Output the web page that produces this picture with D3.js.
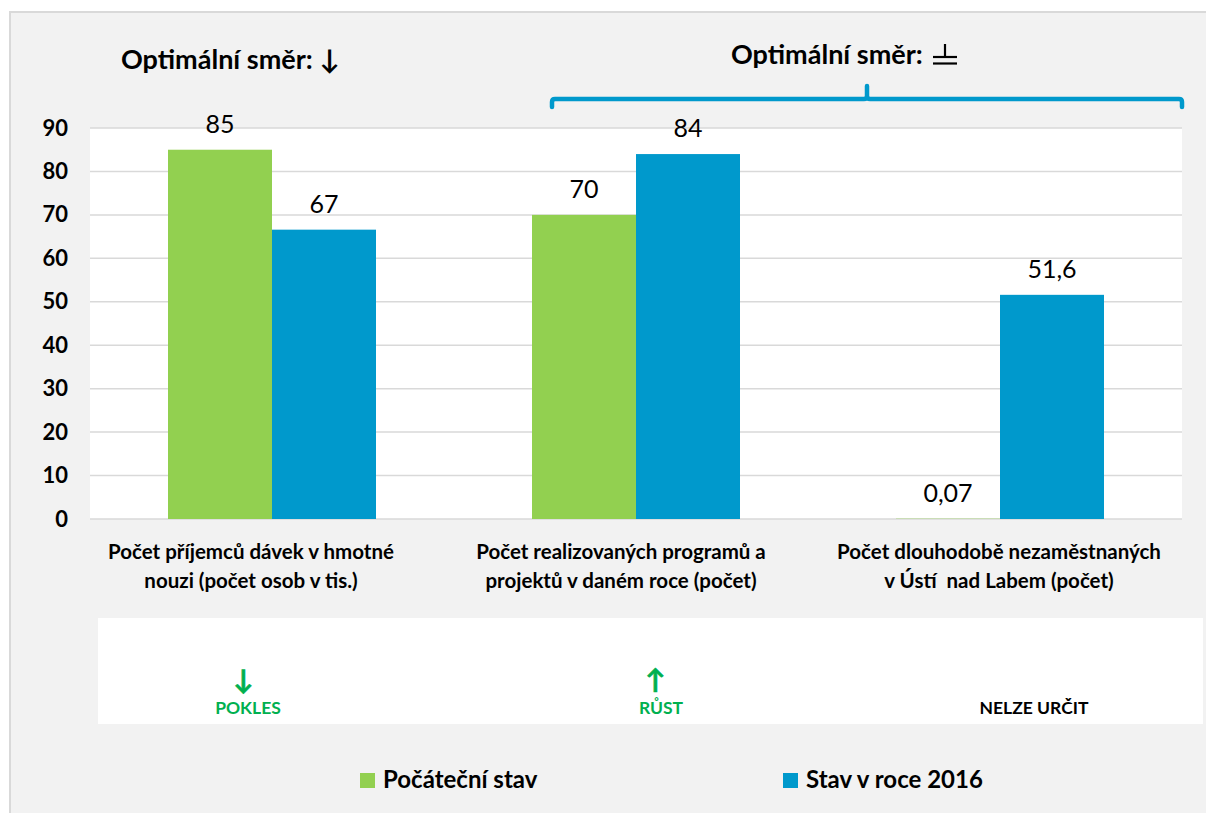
<!DOCTYPE html>
<html>
<head>
<meta charset="utf-8">
<script src="https://cdn.jsdelivr.net/npm/d3@7"></script>
<style>
  body { margin: 0; background: #fff; }
  svg { display: block; font-family: Lato, "Open Sans", sans-serif; }
  .cat tspan { white-space: pre; }
</style>
</head>
<body>
<svg id="chart" width="1206" height="813"></svg>
<script>
// data
let categories = [
	["Počet příjemců dávek v hmotné", "nouzi (počet osob v tis.)"],
	["Počet realizovaných programů a", "projektů v daném roce (počet)"],
	["Počet dlouhodobě nezaměstnaných", "v Ústí  nad Labem (počet)"]
];
let seriesNames = ["Počáteční stav", "Stav v roce 2016"];
let initialValues = [85, 70, 0.07];
let values2016 = [66.6, 84, 51.6];
let initialLabels = ["85", "70", "0,07"];
let labels2016 = ["67", "84", "51,6"];
let yTicks = [0, 10, 20, 30, 40, 50, 60, 70, 80, 90];
let trendTexts = ["POKLES", "RŮST", "NELZE URČIT"];
let trendArrows = ["↓", "↑", ""];
let trendColors = ["#00b050", "#00b050", "#000"];

let colors = ["#92d050", "#0099cc"];

let svg = d3.select("#chart");
let W = +svg.attr("width"), H = +svg.attr("height");

// background + frame
svg.append("rect").attr("x", 10).attr("y", 12).attr("width", W).attr("height", H)
	.attr("fill", "#f2f2f2").attr("stroke", "#d9d9d9").attr("stroke-width", 2);

let plot = { left: 90, right: 1182, top: 128, bottom: 519 };

svg.append("rect").attr("x", plot.left).attr("y", plot.top)
	.attr("width", plot.right - plot.left).attr("height", plot.bottom - plot.top)
	.attr("fill", "#fff");

let x0 = d3.scaleBand().domain(d3.range(categories.length)).range([plot.left, plot.right]);
let x1 = d3.scaleBand().domain(d3.range(seriesNames.length)).range([0, x0.bandwidth()]).paddingOuter(0.75);
let y = d3.scaleLinear().domain([0, 90]).range([plot.bottom, plot.top]);

// gridlines
svg.append("g").selectAll("line").data(yTicks).join("line")
	.attr("x1", plot.left).attr("x2", plot.right)
	.attr("y1", d => y(d)).attr("y2", d => y(d))
	.attr("stroke", "#d9d9d9").attr("stroke-width", 1.5);

// y axis labels
let yAxis = svg.append("g").attr("transform", "translate(" + 68 + ",0)")
	.call(d3.axisLeft(y).tickValues(yTicks).tickSize(0).tickPadding(0));
yAxis.select(".domain").remove();
yAxis.selectAll("text").attr("font-size", 22).attr("font-weight", "bold")
	.attr("fill", "#000").attr("font-family", "Lato, sans-serif");

// bars
let rows = categories.map((c, i) => [
	{ s: 0, v: initialValues[i], label: initialLabels[i] },
	{ s: 1, v: values2016[i], label: labels2016[i] }
]);

let groups = svg.append("g").selectAll("g").data(rows).join("g")
	.attr("transform", (d, i) => "translate(" + x0(i) + ",0)");

groups.selectAll("rect").data(d => d).join("rect")
	.attr("x", d => x1(d.s)).attr("width", x1.bandwidth())
	.attr("y", d => y(d.v)).attr("height", d => y(0) - y(d.v))
	.attr("fill", d => colors[d.s]);

groups.selectAll("text").data(d => d).join("text")
	.attr("x", d => x1(d.s) + x1.bandwidth() / 2)
	.attr("y", d => y(d.v) - 17)
	.attr("text-anchor", "middle").attr("font-size", 25).attr("fill", "#000")
	.text(d => d.label);

// category labels (Excel wraps them a bit left of the band centre)
let labelShift = [-21, -15, -1];
let cat = svg.append("g").attr("class", "cat").selectAll("text").data(categories).join("text")
	.attr("x", (d, i) => x0(i) + x0.bandwidth() / 2 + labelShift[i])
	.attr("y", 559)
	.attr("text-anchor", "middle").attr("font-size", 20.5).attr("font-weight", "bold");
cat.selectAll("tspan").data(d => d).join("tspan")
	.attr("x", function() { return this.parentNode.getAttribute("x"); })
	.attr("dy", (d, i) => i ? 29 : 0)
	.text(d => d);

// titles
svg.append("text").attr("x", 121).attr("y", 69)
	.attr("font-size", 27).attr("font-weight", "bold").text("Optimální směr: ↓");
svg.append("text").attr("x", 731).attr("y", 64)
	.attr("font-size", 27).attr("font-weight", "bold").text("Optimální směr:");
// the "╧" like symbol after the second title
let sym = svg.append("g").attr("stroke", "#000").attr("stroke-width", 2.2);
sym.append("line").attr("x1", 945).attr("x2", 945).attr("y1", 44).attr("y2", 57);
sym.append("line").attr("x1", 933).attr("x2", 957).attr("y1", 57).attr("y2", 57);
sym.append("line").attr("x1", 933).attr("x2", 957).attr("y1", 63.5).attr("y2", 63.5);

// brace over categories 2 and 3
let bx0 = x0(1) + x1(0) + 20, bx1 = plot.right, bxm = (bx0 + bx1) / 2, by = 99;
svg.append("path")
	.attr("d", `M${bx0},107 L${bx0},${by + 3} Q${bx0},${by} ${bx0 + 3},${by} L${bxm - 3},${by} Q${bxm},${by} ${bxm},${by - 3} L${bxm},86 M${bxm},${by - 3} Q${bxm},${by} ${bxm + 3},${by} L${bx1 - 3},${by} Q${bx1},${by} ${bx1},${by + 3} L${bx1},107`)
	.attr("fill", "none").attr("stroke", "#0099cc").attr("stroke-width", 4.5)
	.attr("stroke-linecap", "round");

// trend box
svg.append("rect").attr("x", 98).attr("y", 618).attr("width", 1105).attr("height", 106).attr("fill", "#fff");

let trendX = [248, 661, 1034];
let trend = svg.append("g").selectAll("g").data(trendTexts).join("g")
	.attr("transform", (d, i) => "translate(" + trendX[i] + ",0)");
trend.append("text").attr("y", 714).attr("text-anchor", "middle")
	.attr("font-size", 17.5).attr("font-weight", "bold")
	.attr("fill", (d, i) => trendColors[i]).text(d => d);
trend.append("text").attr("x", (d, i) => i === 0 ? -5 : -6).attr("y", 689).attr("text-anchor", "middle")
	.attr("font-size", 27).attr("font-weight", "bold")
	.attr("stroke", (d, i) => trendColors[i]).attr("stroke-width", 0.6)
	.attr("fill", (d, i) => trendColors[i]).text((d, i) => trendArrows[i]);

// legend
let legendX = [360, 783];
let leg = svg.append("g").selectAll("g").data(seriesNames).join("g")
	.attr("transform", (d, i) => "translate(" + legendX[i] + ",773)");
leg.append("rect").attr("width", 15).attr("height", 15).attr("fill", (d, i) => colors[i]);
leg.append("text").attr("x", 23).attr("y", 15).attr("font-size", 24).attr("font-weight", "bold").text(d => d);
</script>
</body>
</html>
